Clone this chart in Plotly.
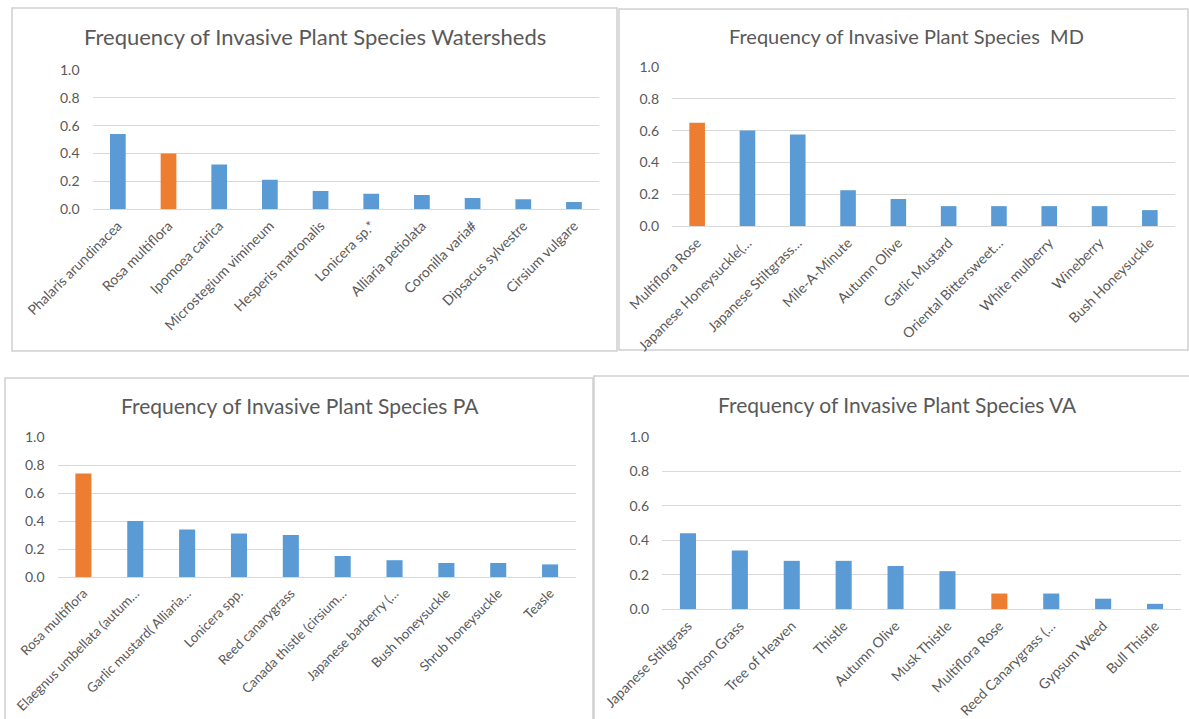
import plotly.graph_objects as go

W, H = 1189, 719

# ---- data ----
ws_species = ["Phalaris arundinacea", "Rosa multiflora", "Ipomoea cairica", "Microstegium vimineum",
              "Hesperis matronalis", "Lonicera sp.*", "Alliaria petiolata", "Coronilla varia#",
              "Dipsacus sylvestre", "Cirsium vulgare"]
ws_freq = [0.54, 0.40, 0.32, 0.21, 0.13, 0.11, 0.10, 0.08, 0.07, 0.05]

md_species = ["Multiflora Rose", "Japanese Honeysuckle(…", "Japanese Stiltgrass…", "Mile-A-Minute",
              "Autumn Olive", "Garlic Mustard", "Oriental Bittersweet…", "White mulberry",
              "Wineberry", "Bush Honeysuckle"]
md_freq = [0.65, 0.60, 0.575, 0.225, 0.17, 0.125, 0.125, 0.125, 0.125, 0.10]

pa_species = ["Rosa multiflora", "Elaegnus umbellata (autum…", "Garlic mustard( Alliaria…", "Lonicera spp.",
              "Reed canarygrass", "Canada thistle (cirsium…", "Japanese barberry (…", "Bush honeysuckle",
              "Shrub honeysuckle", "Teasle"]
pa_freq = [0.74, 0.40, 0.34, 0.31, 0.30, 0.15, 0.12, 0.10, 0.10, 0.09]

va_species = ["Japanese Stiltgrass", "Johnson Grass", "Tree of Heaven", "Thistle", "Autumn Olive",
              "Musk Thistle", "Multiflora Rose", "Reed Canarygrass (…", "Gypsum Weed", "Bull Thistle"]
va_freq = [0.44, 0.34, 0.28, 0.28, 0.25, 0.22, 0.09, 0.09, 0.06, 0.03]

titles = ["Frequency of Invasive Plant Species Watersheds",
          "Frequency of Invasive Plant Species  MD",
          "Frequency of Invasive Plant Species PA",
          "Frequency of Invasive Plant Species VA"]
highlight = {"Rosa multiflora", "Multiflora Rose"}
y_ticks = [0.0, 0.2, 0.4, 0.6, 0.8, 1.0]

# ---- styling / layout (pixels) ----
BLUE, ORANGE = "#5B9BD5", "#ED7D31"
TXT, GRID = "#595959", "#D9D9D9"
FONT = "Lato"

panels = [
    dict(sp=ws_species, v=ws_freq, px=(92.5, 599.3), py=(70, 209), box=(12, 617, 8, 351), t=(315, 36, 22), fs=14),
    dict(sp=md_species, v=md_freq, px=(672, 1175), py=(67, 226), box=(619, 1188, 9, 350), t=(906, 36, 20), fs=14),
    dict(sp=pa_species, v=pa_freq, px=(57.5, 576), py=(437, 577), box=(5, 593, 378, 722), t=(300, 405, 21), fs=13.3),
    dict(sp=va_species, v=va_freq, px=(662, 1181), py=(437, 609), box=(594, 1192, 376, 722), t=(897, 404, 21), fs=14),
]

fig = go.Figure()
shapes, annotations = [], []
for i, p in enumerate(panels, start=1):
    xa = "x" if i == 1 else f"x{i}"
    ya = "y" if i == 1 else f"y{i}"
    colors = [ORANGE if s in highlight else BLUE for s in p["sp"]]
    fig.add_trace(go.Bar(x=p["sp"], y=p["v"], marker=dict(color=colors, line=dict(width=0)),
                         width=0.31, xaxis=xa, yaxis=ya, showlegend=False,
                         hovertemplate="%{x}: %{y}<extra></extra>"))
    xd = [p["px"][0] / W, p["px"][1] / W]
    yd = [1 - p["py"][1] / H, 1 - p["py"][0] / H]
    xkey = "xaxis" if i == 1 else f"xaxis{i}"
    ykey = "yaxis" if i == 1 else f"yaxis{i}"
    fig.update_layout(**{
        xkey: dict(domain=xd, anchor=ya, type="category", tickangle=-45, showgrid=False,
                   showline=False, zeroline=False, ticks="", automargin=False,
                   ticklabelstandoff=5,
                   tickfont=dict(family=FONT, size=p["fs"], color=TXT)),
        ykey: dict(domain=yd, anchor=xa, range=[0, 1.0], tickvals=y_ticks,
                   ticktext=[f"{t:.1f}" for t in y_ticks], showgrid=True, gridcolor=GRID,
                   gridwidth=1, zeroline=True, zerolinecolor=GRID, zerolinewidth=1,
                   showline=False, ticks="", ticklabelstandoff=12, automargin=False,
                   tickfont=dict(family=FONT, size=14, color=TXT)),
    })
    bx0, bx1, by0, by1 = p["box"]
    shapes.append(dict(type="rect", xref="paper", yref="paper", x0=bx0 / W, x1=bx1 / W,
                       y0=1 - by1 / H, y1=1 - by0 / H, line=dict(color="#D0D0D0", width=1.5),
                       fillcolor="rgba(0,0,0,0)", layer="below"))
    cx, cy, fs = p["t"]
    annotations.append(dict(text=titles[i - 1], xref="paper", yref="paper", x=cx / W, y=1 - cy / H,
                            xanchor="center", yanchor="middle", showarrow=False,
                            font=dict(family=FONT, size=fs, color=TXT)))

fig.update_layout(width=W, height=H, margin=dict(l=0, r=0, t=0, b=0, autoexpand=False),
                  template="none", paper_bgcolor="white", plot_bgcolor="white",
                  shapes=shapes, annotations=annotations)
fig.write_html("out.html", config={"displayModeBar": False},
               post_script="document.body.style.margin='0';document.body.style.overflow='hidden';")
